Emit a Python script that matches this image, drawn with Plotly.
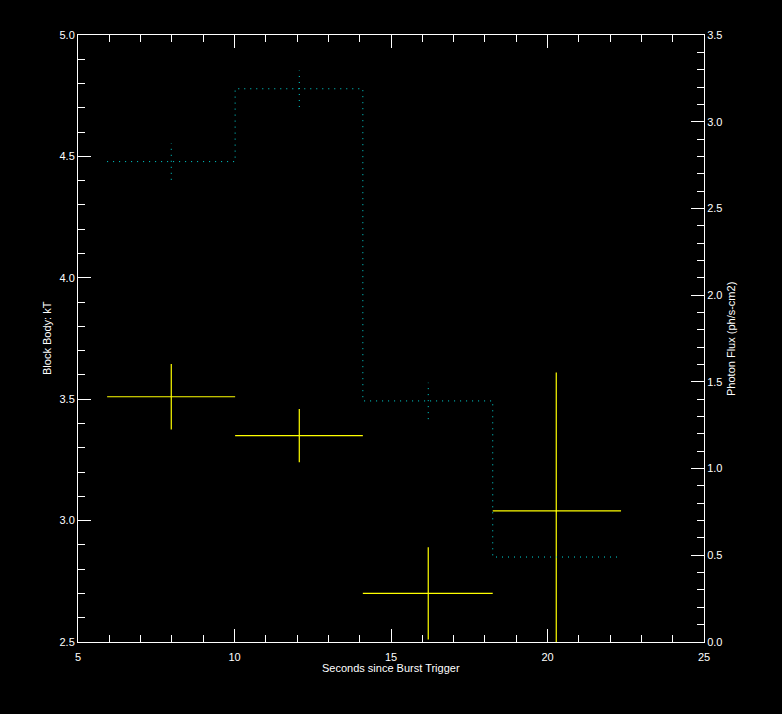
import plotly.graph_objects as go

# Time bins (seconds since burst trigger)
bin_start = [5.93, 10.02, 14.10, 18.25]
bin_end = [10.02, 14.10, 18.25, 22.35]
bin_center = [7.98, 12.07, 16.19, 20.28]

# Black body kT (left axis)
kt = [3.51, 3.35, 2.70, 3.04]
kt_err = [0.135, 0.11, 0.19, 0.57]

# Photon flux (right axis)
flux = [2.77, 3.19, 1.39, 0.49]
flux_err = [0.105, 0.105, 0.105, 0.0]

x_ticks = [5, 10, 15, 20, 25]
kt_ticks = [2.5, 3.0, 3.5, 4.0, 4.5, 5.0]
flux_ticks = [0.0, 0.5, 1.0, 1.5, 2.0, 2.5, 3.0, 3.5]

YEL = "#ffff00"
CYAN = "#00d8d8"
FONT = "Liberation Sans"

fig = go.Figure()

# Photon flux step histogram (dotted)
step_x = bin_start + [bin_end[-1]]
step_y = flux + [flux[-1]]
fig.add_trace(go.Scatter(
    x=step_x, y=step_y, mode="lines", line_shape="hv",
    line=dict(color=CYAN, width=1, dash="1px,5px"),
    yaxis="y2", hoverinfo="skip", showlegend=False))

# Photon flux error bars (dotted vertical segments)
ex, ey = [], []
for c, f, e in zip(bin_center, flux, flux_err):
    if e > 0:
        ex += [c, c, None]
        ey += [f - e, f + e, None]
fig.add_trace(go.Scatter(
    x=ex, y=ey, mode="lines",
    line=dict(color=CYAN, width=1, dash="1px,5px"),
    yaxis="y2", hoverinfo="skip", showlegend=False))

# kT points with error crosses
fig.add_trace(go.Scatter(
    x=bin_center, y=kt, mode="markers",
    marker=dict(size=1, color=YEL),
    error_x=dict(type="data", symmetric=False,
                 array=[e - c for e, c in zip(bin_end, bin_center)],
                 arrayminus=[c - s for c, s in zip(bin_center, bin_start)],
                 color=YEL, thickness=1.2, width=0),
    error_y=dict(type="data", array=kt_err, color=YEL, thickness=1.2, width=0),
    showlegend=False))

axis_common = dict(
    showgrid=False, zeroline=False, showline=True, linecolor="white", linewidth=1,
    ticks="inside", ticklen=13, tickwidth=1, tickcolor="white",
    tickfont=dict(family=FONT, size=11, color="white"),
)
minor = dict(ticks="inside", ticklen=7, tickcolor="white", tickwidth=1)

fig.update_layout(
    width=782, height=714,
    paper_bgcolor="black", plot_bgcolor="black",
    margin=dict(l=78, r=78, t=35, b=72),
    xaxis=dict(range=[5, 25], tickvals=x_ticks, ticktext=[str(v) for v in x_ticks],
               mirror="ticks", minor=dict(dtick=1, **minor), ticklabelstandoff=5,
               **axis_common),
    yaxis=dict(range=[2.5, 5.0], tickvals=kt_ticks, ticktext=[f"{v:.1f}" for v in kt_ticks],
               minor=dict(dtick=0.1, **minor), **axis_common),
    yaxis2=dict(range=[0, 3.5], overlaying="y", side="right", anchor="x",
                tickvals=flux_ticks, ticktext=[f"{v:.1f}" for v in flux_ticks],
                minor=dict(dtick=0.1, **minor), **axis_common),
)

# annotation positions given in pixels, converted to paper coordinates
pw, ph = 782 - 78 - 78, 714 - 35 - 72
def px(x):
    return (x - 78) / pw
def py(y):
    return (642 - y) / ph

ann_font = dict(family=FONT, size=11, color="white")
fig.add_annotation(text="Seconds since Burst Trigger", x=0.5, y=py(668),
                   xref="paper", yref="paper", showarrow=False,
                   xanchor="center", yanchor="middle", font=ann_font)
fig.add_annotation(text="Block Body: kT", x=px(47), y=py(338),
                   xref="paper", yref="paper", showarrow=False, textangle=-90,
                   xanchor="center", yanchor="middle", font=ann_font)
fig.add_annotation(text="Photon Flux (ph/s-cm2)", x=px(731), y=py(339),
                   xref="paper", yref="paper", showarrow=False, textangle=-90,
                   xanchor="center", yanchor="middle", font=ann_font)

fig.write_html("out.html", config={"displayModeBar": False},
               post_script="document.body.style.margin='0';document.body.style.background='black';")
